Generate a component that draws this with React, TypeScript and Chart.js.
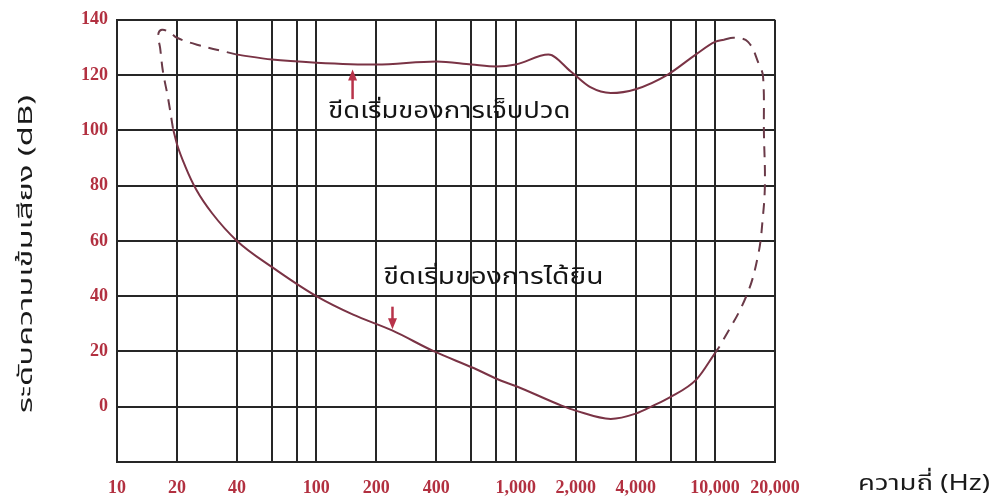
import React, { useEffect, useRef } from "react";
import { Chart, registerables } from "chart.js";

Chart.register(...registerables);

// Frequency ticks (Hz) – grid lines and which ones carry labels
const xGridTicks = [10, 20, 40, 60, 80, 100, 200, 400, 600, 800, 1000, 2000, 4000, 6000, 8000, 10000, 20000];
const xLabeledTicks = [10, 20, 40, 100, 200, 400, 1000, 2000, 4000, 10000, 20000];
const yTickValues = [-20, 0, 20, 40, 60, 80, 100, 120, 140];

// Threshold of hearing (solid)
const hearingHz = [19.1, 20, 22, 25, 30, 40, 60, 100, 153, 240, 390, 615, 840, 1000, 1700, 2000, 3000, 4000, 4900, 5900, 8100, 10000];
const hearingDb = [100.6, 95, 87, 78.5, 70, 60, 50.5, 40, 33.3, 27.6, 20, 14, 9.5, 7.5, 0.4, -1.4, -4.4, -2.5, 0.4, 3.3, 10, 19.4];

// Threshold of pain (solid)
const painHz = [40, 60, 100, 200, 400, 600, 800, 1000, 1460, 1890, 2370, 3000, 4000, 5800, 8000, 10000, 11090];
const painDb = [127.4, 125.6, 124.5, 123.8, 124.9, 123.8, 123.1, 123.8, 127.4, 121.3, 115.6, 113.5, 114.9, 120.2, 127.4, 132, 132.8];

// Dashed low-frequency limit
const lowLimitHz = [19.1, 18.0, 17.0, 16.45, 16.1, 16.8, 18.5, 20.0, 25.2, 40];
const lowLimitDb = [100.6, 112, 121.3, 129.9, 134.6, 136.4, 135.3, 133.5, 131, 127.4];

// Dashed high-frequency limit
const highLimitHz = [11090, 12450, 14650, 16640, 17420, 17600, 17800, 17400, 16450, 14300, 10700, 10000];
const highLimitDb = [132.8, 133.5, 132, 123.8, 119.5, 98.8, 80.9, 69, 54.8, 39.7, 22.6, 19.4];

// Annotations
const painLabel = "ขีดเริ่มของการเจ็บปวด";
const hearingLabel = "ขีดเริ่มของการได้ยิน";
const xTitle = "ความถี่ (Hz)";
const yTitle = "ระดับความเข้มเสียง (dB)";

const THAI_FONT = "'Noto Sans Thai', 'Noto Sans Thai Looped', Tahoma, 'DejaVu Sans', 'Noto Sans', sans-serif";
const CURVE = "#7a3345";
const DASH = "#6a3a48";
const ARROW = "#b8334a";
const GRID = "#262626";
const TICK = "#b23040";

const zip = (xs: number[], ys: number[]) => xs.map((x, i) => ({ x, y: ys[i] }));

const fmt = (v: number) => v.toLocaleString("en-US");

// draw text horizontally stretched so that it spans the given width
const fitText = (ctx: CanvasRenderingContext2D, text: string, x: number, y: number, width: number) => {
  const w = ctx.measureText(text).width;
  ctx.save();
  ctx.translate(x, y);
  ctx.scale(width / w, 1);
  ctx.fillText(text, 0, 0);
  ctx.restore();
};

const annotationPlugin = {
  id: "annotations",
  afterDatasetsDraw(chart: any) {
    const { ctx, scales } = chart;
    const xs = scales.x;
    const ys = scales.y;
    ctx.save();
    // texts
    ctx.fillStyle = "#141414";
    ctx.font = `23px ${THAI_FONT}`;
    ctx.textBaseline = "middle";
    ctx.textAlign = "left";
    fitText(ctx, painLabel, xs.getPixelForValue(114.9), ys.getPixelForValue(106), 242);
    fitText(ctx, hearingLabel, xs.getPixelForValue(217), ys.getPixelForValue(46), 220);

    // arrows
    const arrow = (hz: number, fromDb: number, toDb: number) => {
      const x = xs.getPixelForValue(hz);
      const y0 = ys.getPixelForValue(fromDb);
      const y1 = ys.getPixelForValue(toDb);
      const dir = y1 < y0 ? -1 : 1;
      ctx.strokeStyle = ARROW;
      ctx.fillStyle = ARROW;
      ctx.lineWidth = 2.5;
      ctx.beginPath();
      ctx.moveTo(x, y0);
      ctx.lineTo(x, y1 - dir * 8);
      ctx.stroke();
      ctx.beginPath();
      ctx.moveTo(x, y1);
      ctx.lineTo(x - 4.5, y1 - dir * 11);
      ctx.lineTo(x + 4.5, y1 - dir * 11);
      ctx.closePath();
      ctx.fill();
    };
    arrow(152, 111.3, 122);
    arrow(241, 36.2, 28);

    // axis titles
    ctx.fillStyle = "#1a1a1a";
    ctx.font = `22px ${THAI_FONT}`;
    ctx.textAlign = "left";
    ctx.textBaseline = "middle";
    fitText(ctx, xTitle, 858, 486, 132);

    ctx.font = `20px ${THAI_FONT}`;
    ctx.translate(28, 254);
    ctx.rotate(-Math.PI / 2);
    ctx.textAlign = "center";
    fitText(ctx, yTitle, 0, 0, 318);
    ctx.restore();
  },
};

export default function App() {
  const ref = useRef<HTMLCanvasElement | null>(null);

  useEffect(() => {
    if (!ref.current) return;
    const tickFont = { family: "'Liberation Serif', 'DejaVu Serif', serif", size: 18, weight: "bold" as const };
    const solid = {
      borderColor: CURVE,
      borderWidth: 2,
      pointRadius: 0,
      cubicInterpolationMode: "monotone" as const,
      fill: false,
    };
    const dashed = {
      borderColor: DASH,
      borderWidth: 2,
      borderDash: [11, 8],
      pointRadius: 0,
      tension: 0.4,
      fill: false,
    };
    const chart = new Chart(ref.current, {
      type: "line",
      data: {
        datasets: [
          { ...solid, data: zip(hearingHz, hearingDb) },
          { ...solid, data: zip(painHz, painDb) },
          { ...dashed, data: zip(lowLimitHz, lowLimitDb) },
          { ...dashed, data: zip(highLimitHz, highLimitDb) },
        ],
      },
      options: {
        animation: false,
        responsive: false,
        maintainAspectRatio: false,
        layout: { padding: { left: 0, right: 221, top: 15, bottom: 0 } },
        plugins: {
          legend: { display: false },
          tooltip: { enabled: false },
        },
        elements: { line: { capBezierPoints: false } },
        scales: {
          x: {
            type: "logarithmic",
            min: 10,
            max: 20000,
            afterBuildTicks: (scale: any) => {
              scale.ticks = xGridTicks.map((v) => ({ value: v }));
            },
            afterFit: (scale: any) => {
              scale.height = 40;
            },
            grid: { color: GRID, lineWidth: 2, drawTicks: false },
            border: { color: GRID, width: 2 },
            ticks: {
              autoSkip: false,
              maxRotation: 0,
              padding: 16,
              color: TICK,
              font: tickFont,
              callback: (value: any) => (xLabeledTicks.includes(Number(value)) ? fmt(Number(value)) : ""),
            },
          },
          y: {
            type: "linear",
            min: -20,
            max: 140,
            afterBuildTicks: (scale: any) => {
              scale.ticks = yTickValues.map((v) => ({ value: v }));
            },
            afterFit: (scale: any) => {
              scale.width = 117;
            },
            grid: { color: GRID, lineWidth: 2, drawTicks: false },
            border: { color: GRID, width: 2 },
            ticks: {
              padding: 9,
              color: TICK,
              font: tickFont,
              callback: (value: any) => (Number(value) === -20 ? "" : String(value)),
            },
          },
        },
      },
      plugins: [annotationPlugin],
    });
    return () => chart.destroy();
  }, []);

  return (
    <div style={{ position: "fixed", left: 0, top: 0, width: 996, height: 502, background: "#fff" }}>
      <canvas ref={ref} width={996} height={502} />
    </div>
  );
}
